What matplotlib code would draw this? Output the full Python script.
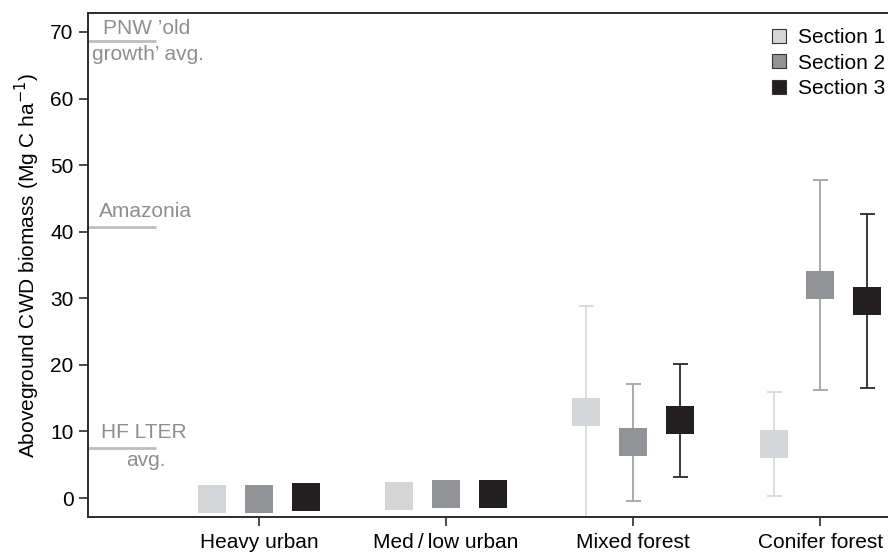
import numpy as np
import matplotlib.pyplot as plt

plt.rcParams['font.family'] = ['Liberation Sans', 'DejaVu Sans']
plt.rcParams['font.size'] = 15

categories = ["Heavy urban", "Med\u2009/\u2009low urban", "Mixed forest", "Conifer forest"]
sections = ["Section 1", "Section 2", "Section 3"]

# mean CWD biomass per section, one value per category
sec1_mean = [-0.2, 0.25, 12.9, 8.1]
sec2_mean = [-0.2, 0.55, 8.4, 32.0]
sec3_mean = [0.1, 0.55, 11.7, 29.6]

# error bar ends (low, high); None = no bar drawn
sec1_lo = [None, None, -5.0, 0.3]
sec1_hi = [None, None, 28.8, 16.0]
sec2_lo = [None, None, -0.5, 16.2]
sec2_hi = [None, None, 17.2, 47.8]
sec3_lo = [None, None, 3.2, 16.5]
sec3_hi = [None, None, 20.2, 42.7]

# reference averages from other sites
ref_names = ["PNW 'old growth' avg.", "Amazonia", "HF LTER avg."]
ref_values = [68.6, 40.7, 7.5]

fill_cols = ["#d4d5d7", "#929396", "#231f20"]
err_cols = ["#d9d9d9", "#a3a3a5", "#2a2a2a"]

fig = plt.figure(figsize=(8.88, 5.53), dpi=100)
ax = fig.add_axes([0.0991, 0.065, 0.905, 0.9115])

x = np.arange(1, len(categories) + 1)
means = [sec1_mean, sec2_mean, sec3_mean]
los = [sec1_lo, sec2_lo, sec3_lo]
his = [sec1_hi, sec2_hi, sec3_hi]
offsets = [-0.25, 0.0, 0.25]

for k in range(3):
    xs = x + offsets[k]
    for i in range(len(categories)):
        if los[k][i] is None:
            continue
        m = means[k][i]
        ax.errorbar(xs[i], m, yerr=[[m - los[k][i]], [his[k][i] - m]],
                    fmt='none', ecolor=err_cols[k], elinewidth=1.3,
                    capsize=5.4, capthick=1.3, zorder=2)
    ax.plot(xs, means[k], 's', ms=19.5, mew=0, color=fill_cols[k],
            linestyle='none', zorder=3)
    # legend handle
    ax.plot([], [], 's', ms=10, mfc=fill_cols[k], mec="#333333", mew=0.8,
            linestyle='none', label=sections[k])

# reference lines on the left
ref_col = "#bdbdbd"
txt_col = "#8e8e8e"
for v in ref_values:
    ax.plot([0.0875, 0.4525], [v, v], color=ref_col, lw=2, zorder=1,
            solid_capstyle='butt', clip_on=False)
ax.text(0.165, 70.5, "PNW \u2019old", color=txt_col, ha='left', va='center')
ax.text(0.11, 66.6, "growth\u2019 avg.", color=txt_col, ha='left', va='center')
ax.text(0.145, 43.0, "Amazonia", color=txt_col, ha='left', va='center')
ax.text(0.155, 9.9, "HF LTER", color=txt_col, ha='left', va='center')
ax.text(0.29, 5.7, "avg.", color=txt_col, ha='left', va='center')

ax.set_xlim(0.0875, 4.38)
ax.set_ylim(-2.85, 72.85)
ax.set_xticks(x)
ax.set_xticklabels(categories)
ax.set_yticks(np.arange(0, 71, 10))
ax.set_ylabel("Aboveground CWD biomass (Mg C ha$^{-1}$)", labelpad=6)

for side in ['left', 'bottom', 'top']:
    ax.spines[side].set_linewidth(1.4)
    ax.spines[side].set_color("#2b2b2b")
ax.spines['right'].set_visible(False)
ax.tick_params(direction='out', length=6.5, width=1.2, color="#2b2b2b")
ax.tick_params(axis='x', pad=5)
ax.tick_params(axis='y', pad=4)

ax.legend(loc='upper right', bbox_to_anchor=(1.008, 0.995), frameon=False,
          handlelength=0.8, handletextpad=0.55, labelspacing=0.32,
          borderaxespad=0.2)

fig.savefig("out.png", dpi=100)
